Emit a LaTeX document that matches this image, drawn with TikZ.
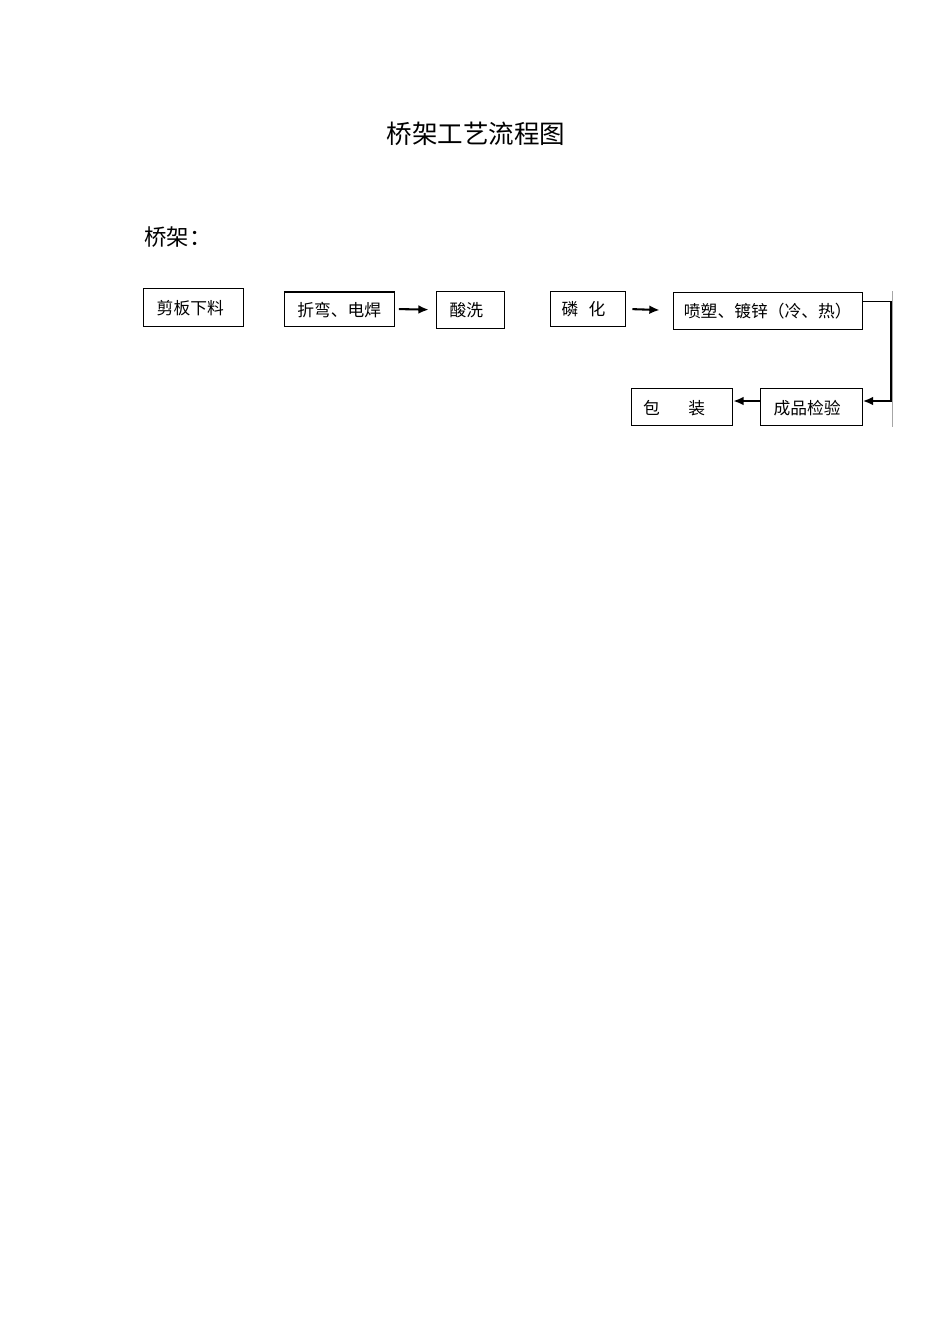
\documentclass[tikz,border=0pt]{standalone}
\usepackage{fontspec}
\setmainfont{Noto Sans CJK SC}
\usetikzlibrary{arrows.meta}

\begin{document}
\begin{tikzpicture}[
            x = 0.6263pt, y = -0.6263pt,
            every node/.style={text depth=0pt, inner sep=0pt},
            box/.style={draw, line width = .6pt, font=\fontsize{10.5}{12}\selectfont},
            line/.style={line width = 1.3pt, -{Latex[length=6.5pt, width=5.5pt]}},
            ]

        \useasboundingbox (0, 0) rectangle (950, 1344);

        \node[font=\fontsize{16}{18}\selectfont] (t) at (476, 133) {桥架工艺流程图};
        \node[anchor=west, font=\fontsize{14}{16}\selectfont] (l) at (144, 236) {桥架：};

        \node[box, minimum width=62.6pt, minimum height=23.8pt] (0) at (193.3, 307.2) {剪板下料\kern3.8pt};
        \node[box, minimum width=68.9pt, minimum height=21.3pt] (1) at (339.3, 309) {折弯、电焊};
        \node[box, minimum width=42.6pt, minimum height=23.2pt] (2) at (470.3, 309.8) {酸洗\kern5pt};
        \node[box, minimum width=46.7pt, minimum height=21.5pt] (3) at (588, 308.9) {磷\hspace{0.6em}化\kern5.6pt};
        \node[box, minimum width=118.4pt, minimum height=23.2pt] (4) at (767.8, 310.5) {喷塑、镀锌（冷、热）};
        \node[box, minimum width=63.6pt, minimum height=23.4pt] (5) at (811.5, 407) {成品检验\kern5.6pt};
        \node[box, minimum width=63.3pt, minimum height=23.4pt] (6) at (682.2, 407) {包\hspace{1.7em}装\kern10pt};

        \coordinate (c0) at (891, 301);
        \coordinate (c1) at (891, 401);
        \coordinate (g0) at (892.5, 291);
        \coordinate (g1) at (892.5, 427);

        \draw[line width = 1.2pt] (1.north west) -- (1.north east);
        \draw[line, shorten <=2.5pt, shorten >=4.4pt] (1.east) -- (2.west);
        \draw[line, shorten <=4.2pt, shorten >=8.2pt] (3.east) -- (4.west);
        \draw[line width = .6pt] (4.east |- c0) -- (c0);
        \draw[line] (c0) -- (c1) -- (5.east |- c1);
        \draw[line] (5.west |- c1) -- (6.east |- c1);
        \draw[gray!70, line width = .4pt] (g0) -- (g1);
    \end{tikzpicture}
\end{document}
